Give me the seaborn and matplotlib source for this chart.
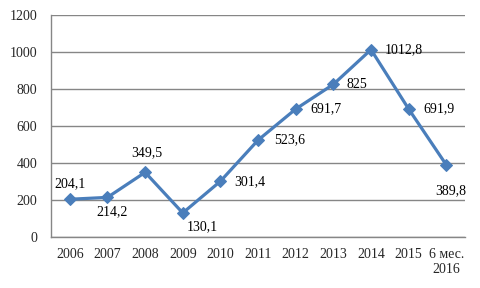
import matplotlib
matplotlib.use("Agg")
import matplotlib.pyplot as plt
import seaborn as sns
import pandas as pd
import numpy as np

years = ["2006", "2007", "2008", "2009", "2010", "2011", "2012", "2013",
         "2014", "2015", "6 мес.\n2016"]
values = [204.1, 214.2, 349.5, 130.1, 301.4, 523.6, 691.7, 825, 1012.8, 691.9, 389.8]
labels = ["204,1", "214,2", "349,5", "130,1", "301,4", "523,6", "691,7", "825",
          "1012,8", "691,9", "389,8"]
# label offsets in pixels (dx, dy)
offsets = [(0, 16), (5, -14), (2, 20), (20, -14), (29, 0), (32, 0), (30, 0),
           (24, 0), (33, 0), (30, 0), (4, -26)]

sns.set_style("white")
plt.rcParams["font.family"] = ["Liberation Serif", "DejaVu Serif"]

df = pd.DataFrame({"pos": np.arange(len(years)), "value": values})

fig = plt.figure(figsize=(4.81, 2.88), dpi=100)
ax = fig.add_axes([0.106, 0.177, 0.861, 0.771])

color = "#4A7EBB"
sns.lineplot(data=df, x="pos", y="value", ax=ax, color=color, linewidth=2.3,
             marker="D", markersize=6, markeredgecolor=color, markerfacecolor=color,
             sort=False)

for x, v, t, (dx, dy) in zip(df["pos"], values, labels, offsets):
    ax.annotate(t, (x, v), xytext=(dx, dy), textcoords="offset pixels",
                ha="center", va="center", fontsize=10, color="black")

ax.set_xlim(-0.5, len(years) - 0.5)
ax.set_ylim(0, 1200)
ax.set_yticks(range(0, 1201, 200))
ax.set_xticks(df["pos"])
ax.set_xticklabels(years, fontsize=10)
ax.set_xticks(np.arange(-0.5, len(years), 1), minor=True)
ax.tick_params(axis="x", which="major", length=0, pad=8)
ax.tick_params(axis="x", which="minor", length=4, color="#868686", direction="out")
ax.tick_params(axis="y", length=4, color="#868686", direction="out", labelsize=10, pad=6)
ax.set_xlabel("")
ax.set_ylabel("")

ax.yaxis.grid(True, color="#868686", linewidth=1)
ax.set_axisbelow(True)
for s in ["top", "right"]:
    ax.spines[s].set_visible(False)
for s in ["left", "bottom"]:
    ax.spines[s].set_color("#868686")
    ax.spines[s].set_linewidth(1)

fig.savefig("out.png", dpi=100)
